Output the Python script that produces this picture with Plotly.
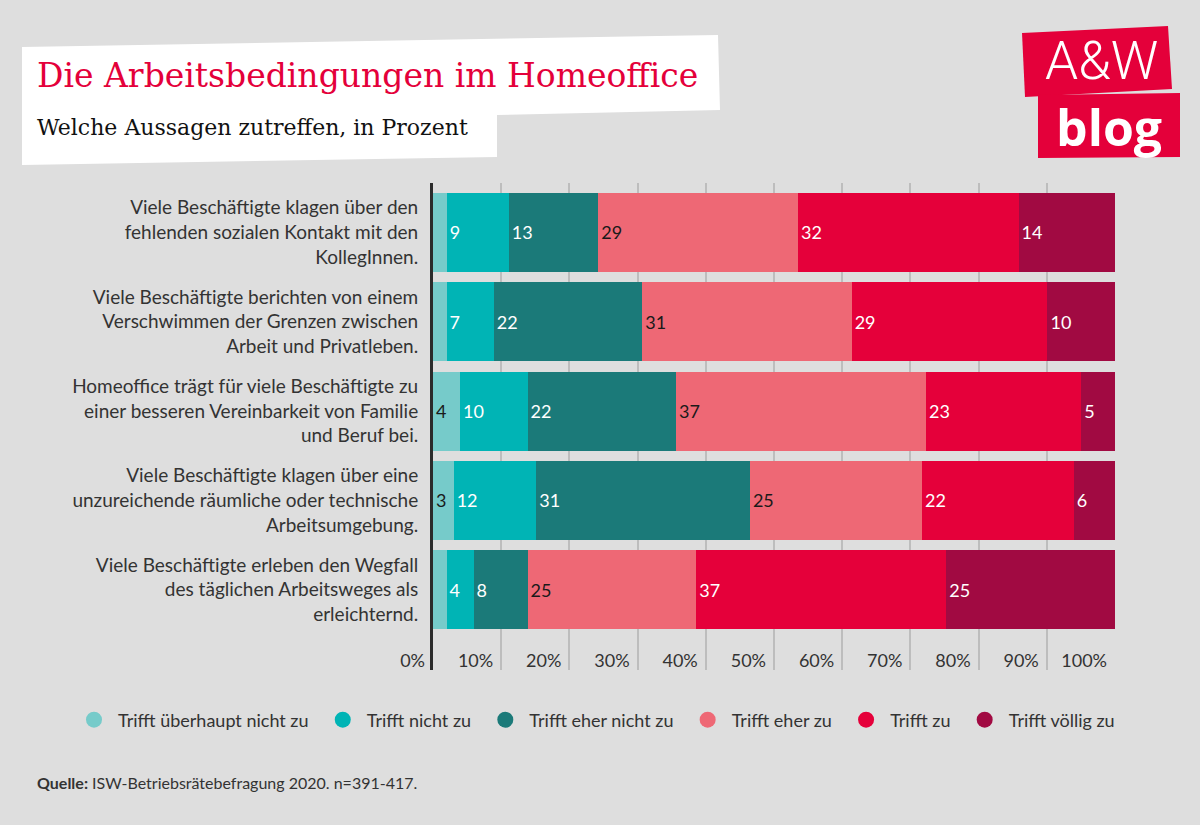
import plotly.graph_objects as go

# ---------------- data ----------------
statements = [
    "Viele Beschäftigte klagen über den<br>fehlenden sozialen Kontakt mit den<br>KollegInnen.",
    "Viele Beschäftigte berichten von einem<br>Verschwimmen der Grenzen zwischen<br>Arbeit und Privatleben.",
    "Homeoffice trägt für viele Beschäftigte zu<br>einer besseren Vereinbarkeit von Familie<br>und Beruf bei.",
    "Viele Beschäftigte klagen über eine<br>unzureichende räumliche oder technische<br>Arbeitsumgebung.",
    "Viele Beschäftigte erleben den Wegfall<br>des täglichen Arbeitsweges als<br>erleichternd.",
]
series_names = [
    "Trifft überhaupt nicht zu",
    "Trifft nicht zu",
    "Trifft eher nicht zu",
    "Trifft eher zu",
    "Trifft zu",
    "Trifft völlig zu",
]
ueberhaupt_nicht = [2, 2, 4, 3, 2]
nicht = [9, 7, 10, 12, 4]
eher_nicht = [13, 22, 22, 31, 8]
eher_zu = [29, 31, 37, 25, 25]
zu = [32, 29, 23, 22, 37]
voellig = [14, 10, 5, 6, 25]
# labels shown inside the segments ("" = no label)
labels_ueberhaupt_nicht = ["", "", "4", "3", ""]

series_values = [ueberhaupt_nicht, nicht, eher_nicht, eher_zu, zu, voellig]
x_tickvals = [0, 10, 20, 30, 40, 50, 60, 70, 80, 90, 100]
x_ticktext = ["0%", "10%", "20%", "30%", "40%", "50%", "60%", "70%", "80%", "90%", "100%"]

# ---------------- styling ----------------
colors = ["#76cbca", "#00b4b5", "#1b7a79", "#ee6875", "#e5003a", "#a10a42"]
text_colors = ["#1a1a1a", "white", "white", "#1a1a1a", "white", "white"]
BG = "#dedede"
FONT = "Lato"

W, H = 1200, 825
ML, MR, MT, MB = 433, 85, 183, 155
PW, PH = W - ML - MR, H - MT - MB


def px(x):
    return (x - ML) / PW


def py(y):
    return (H - MB - y) / PH


fig = go.Figure()
for i, (name, vals) in enumerate(zip(series_names, series_values)):
    if i == 0:
        txt = labels_ueberhaupt_nicht
    else:
        txt = [str(v) for v in vals]
    fig.add_trace(go.Bar(
        y=statements, x=vals, orientation="h", name=name,
        marker=dict(color=colors[i], line=dict(width=0)),
        text=txt, textposition="inside", insidetextanchor="start",
        textangle=0, constraintext="none",
        textfont=dict(family=FONT, size=18, color=text_colors[i]),
        showlegend=False, hoverinfo="skip",
    ))
    # legend entry with circle symbol
    fig.add_trace(go.Scatter(
        x=[None], y=[None], mode="markers", name="\u00a0" + name + "\u00a0\u00a0",
        marker=dict(color=colors[i], size=24, symbol="circle"),
        showlegend=True,
    ))

fig.update_layout(
    width=W, height=H,
    margin=dict(l=ML, r=MR, t=MT, b=MB, pad=0),
    paper_bgcolor=BG, plot_bgcolor=BG,
    barmode="stack", barnorm="percent", bargap=0.115,
    font=dict(family=FONT, size=17, color="#333333"),
    showlegend=True,
    legend=dict(
        orientation="h", x=px(74), xanchor="left", y=py(720), yanchor="middle",
        font=dict(family=FONT, size=18, color="#333333"),
        bgcolor="rgba(0,0,0,0)", itemclick=False, traceorder="normal",
    ),
)

fig.update_xaxes(
    range=[0, 100], tickvals=x_tickvals, ticktext=x_ticktext,
    showgrid=True, gridcolor="#bdbdbd", gridwidth=2,
    zeroline=False, showline=False, ticks="",
    ticklabelposition="outside left", ticklabelshift=-8, ticklabelstandoff=-22,
    tickfont=dict(family=FONT, size=18, color="#333333"),
    fixedrange=True,
)
fig.update_yaxes(
    categoryorder="array", categoryarray=statements,
    range=[4.901, -0.554],
    showgrid=False, zeroline=False,
    showline=True, linecolor="#2b2b2b", linewidth=3,
    ticks="", ticklabelstandoff=8,
    tickfont=dict(family=FONT, size=19, color="#333333"),
    fixedrange=True,
)

shapes = []
# white title box
tb = [(22, 47), (718, 35), (720, 110), (497, 115), (497, 157), (22, 165)]
path = "M " + " L ".join(f"{px(x):.5f},{py(y):.5f}" for x, y in tb) + " Z"
shapes.append(dict(type="path", xref="paper", yref="paper", path=path,
                   fillcolor="white", line=dict(width=0), layer="below"))
# logo boxes
lb1 = [(1022, 33), (1168, 26), (1172, 89), (1025, 97)]
lb2 = [(1038, 95), (1180, 93), (1180, 157), (1038, 158)]
for poly in (lb1, lb2):
    p = "M " + " L ".join(f"{px(x):.5f},{py(y):.5f}" for x, y in poly) + " Z"
    shapes.append(dict(type="path", xref="paper", yref="paper", path=p,
                       fillcolor="#e4003a", line=dict(width=0), layer="below"))
fig.update_layout(shapes=shapes)

annotations = [
    dict(text="Die Arbeitsbedingungen im Homeoffice", x=px(35), y=py(75),
         font=dict(family="DejaVu Serif", size=33, color="#e4003a")),
    dict(text="Welche Aussagen zutreffen, in Prozent", x=px(35), y=py(127),
         font=dict(family="DejaVu Serif", size=22, color="#111111")),
    dict(text="A&amp;W", x=px(1101), y=py(61), xanchor="center",
         font=dict(family="Roboto", size=53, color="white", weight=300)),
    dict(text="blog", x=px(1109), y=py(127), xanchor="center",
         font=dict(family="Open Sans", size=50, color="white", weight=700)),
    dict(text="<b>Quelle:</b> ISW-Betriebsrätebefragung 2020. n=391-417.",
         x=px(35), y=py(782),
         font=dict(family=FONT, size=16, color="#333333")),
]
for a in annotations:
    a.setdefault("xanchor", "left")
    a.update(xref="paper", yref="paper", yanchor="middle", showarrow=False)
fig.update_layout(annotations=annotations)

fig.write_html("out.html", config={"displayModeBar": False},
               post_script="document.body.style.margin='0';")
